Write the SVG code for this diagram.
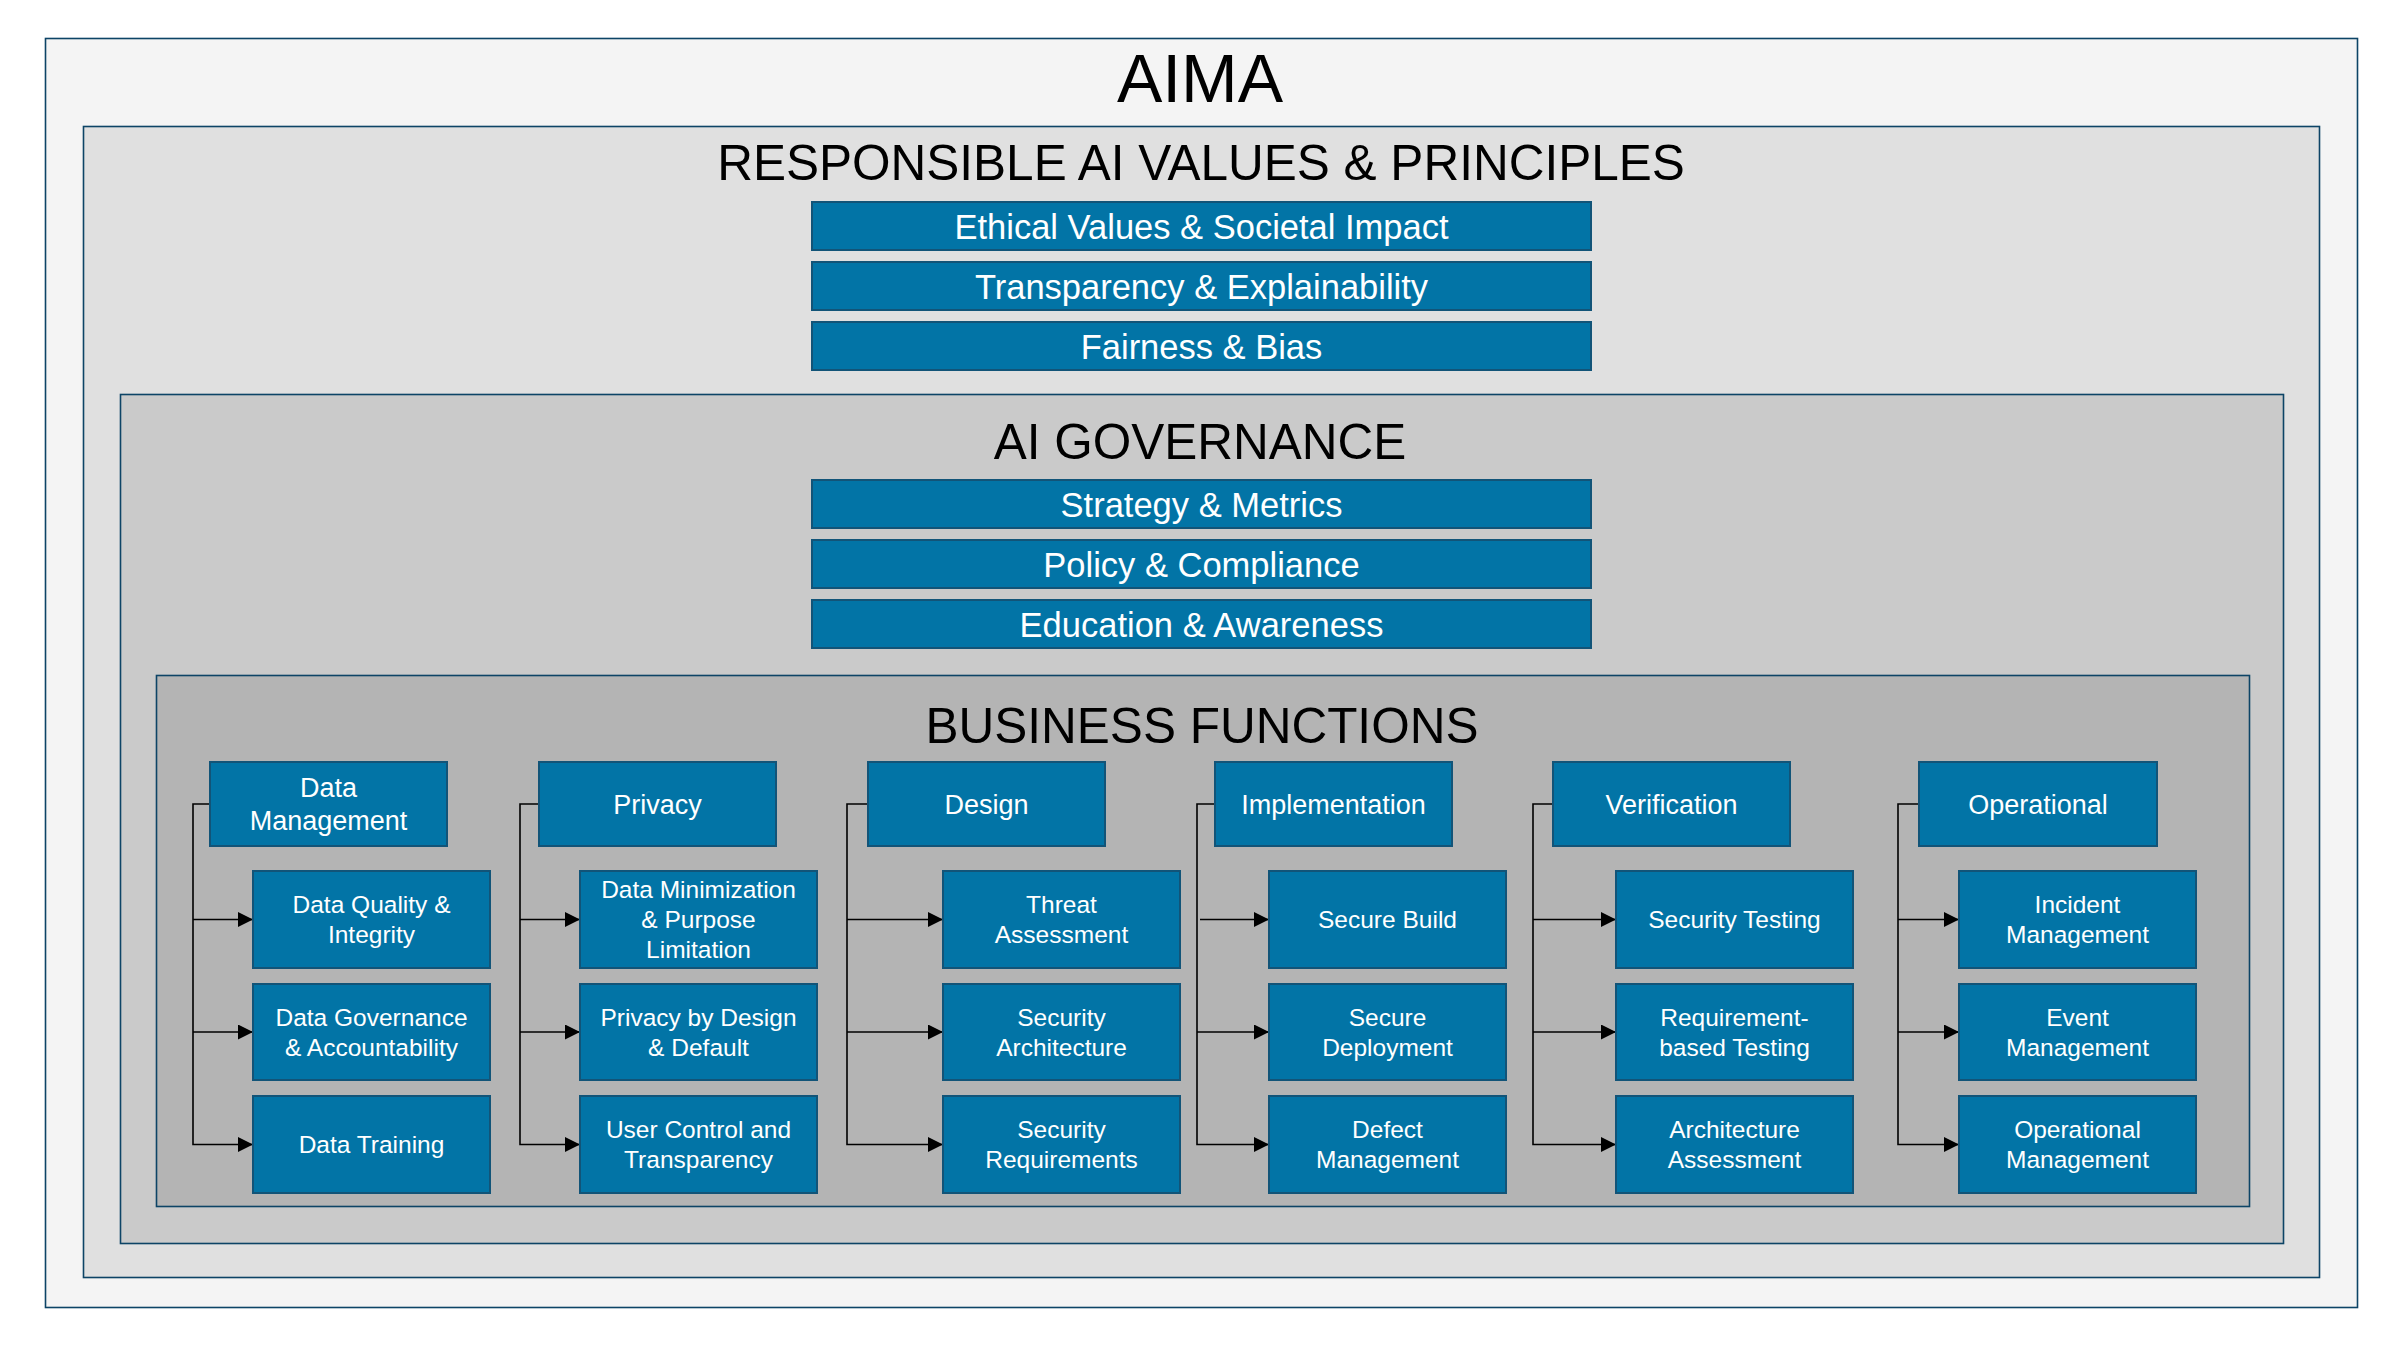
<svg xmlns="http://www.w3.org/2000/svg" width="2400" height="1350" viewBox="0 0 2400 1350">
  <defs>
    <marker id="arrow" viewBox="0 0 14 14" refX="14" refY="7" markerWidth="15" markerHeight="15" markerUnits="userSpaceOnUse" orient="auto">
      <path d="M0,0 L14,7 L0,14 Z" fill="#000"/>
    </marker>
    <style>
      .frame { stroke: #0d4466; stroke-width: 1.6; }
      .title { font-family: "Liberation Sans", Arial, sans-serif; fill: #000; text-anchor: middle; }
      .box { fill: #0274a6; stroke: #125478; stroke-width: 2; }
      .band { font-family: "Liberation Sans", Arial, sans-serif; font-size: 34.5px; fill: #fff; text-anchor: middle; }
      .head { font-family: "Liberation Sans", Arial, sans-serif; font-size: 27px; fill: #fff; text-anchor: middle; }
      .item { font-family: "Liberation Sans", Arial, sans-serif; font-size: 24.5px; fill: #fff; text-anchor: middle; }
      .link { fill: none; stroke: #000; stroke-width: 1.6; }
    </style>
  </defs>

  <rect width="2400" height="1350" fill="#fff"/>

  <!-- nested layers -->
  <g id="layer-aima">
    <rect class="frame" x="45.5" y="38.5" width="2312" height="1269" fill="#f4f4f4"/>
    <text class="title" x="1200" y="102" font-size="68">AIMA</text>
  </g>
  <g id="layer-values">
    <rect class="frame" x="83.5" y="126.5" width="2236" height="1151" fill="#e0e0e0"/>
    <text class="title" x="1201" y="179.5" font-size="49.5">RESPONSIBLE AI VALUES &amp; PRINCIPLES</text>
  </g>
  <g id="layer-governance">
    <rect class="frame" x="120.5" y="394.5" width="2163" height="849" fill="#cacaca"/>
    <text class="title" x="1200" y="459" font-size="49.5">AI GOVERNANCE</text>
  </g>
  <g id="layer-business">
    <rect class="frame" x="156.5" y="675.5" width="2093" height="531" fill="#b4b4b4"/>
    <text class="title" x="1202" y="742.5" font-size="49.5">BUSINESS FUNCTIONS</text>
  </g>

  <!-- principle and governance bands -->
  <g id="band-ethical"><rect class="box" x="812" y="202" width="779" height="48"/><text class="band" x="1201.5" y="238.5">Ethical Values &amp; Societal Impact</text></g>
  <g id="band-transparency"><rect class="box" x="812" y="262" width="779" height="48"/><text class="band" x="1201.5" y="298.5">Transparency &amp; Explainability</text></g>
  <g id="band-fairness"><rect class="box" x="812" y="322" width="779" height="48"/><text class="band" x="1201.5" y="358.5">Fairness &amp; Bias</text></g>
  <g id="band-strategy"><rect class="box" x="812" y="480" width="779" height="48"/><text class="band" x="1201.5" y="516.5">Strategy &amp; Metrics</text></g>
  <g id="band-policy"><rect class="box" x="812" y="540" width="779" height="48"/><text class="band" x="1201.5" y="576.5">Policy &amp; Compliance</text></g>
  <g id="band-education"><rect class="box" x="812" y="600" width="779" height="48"/><text class="band" x="1201.5" y="636.5">Education &amp; Awareness</text></g>

  <!-- connectors -->
  <g id="connectors">
    <path class="link" d="M210,804 H193 V1144.5 H253" marker-end="url(#arrow)"/>
    <path class="link" d="M193,919.5 H253" marker-end="url(#arrow)"/>
    <path class="link" d="M193,1032 H253" marker-end="url(#arrow)"/>

    <path class="link" d="M539,804 H520 V1144.5 H580" marker-end="url(#arrow)"/>
    <path class="link" d="M520,919.5 H580" marker-end="url(#arrow)"/>
    <path class="link" d="M520,1032 H580" marker-end="url(#arrow)"/>

    <path class="link" d="M868,804 H847 V1144.5 H943" marker-end="url(#arrow)"/>
    <path class="link" d="M847,919.5 H943" marker-end="url(#arrow)"/>
    <path class="link" d="M847,1032 H943" marker-end="url(#arrow)"/>

    <path class="link" d="M1215,804 H1197 V1144.5 H1269" marker-end="url(#arrow)"/>
    <path class="link" d="M1200,919.5 H1269" marker-end="url(#arrow)"/>
    <path class="link" d="M1197,1032 H1269" marker-end="url(#arrow)"/>

    <path class="link" d="M1553,804 H1533 V1144.5 H1616" marker-end="url(#arrow)"/>
    <path class="link" d="M1533,919.5 H1616" marker-end="url(#arrow)"/>
    <path class="link" d="M1533,1032 H1616" marker-end="url(#arrow)"/>

    <path class="link" d="M1919,804 H1898 V1144.5 H1959" marker-end="url(#arrow)"/>
    <path class="link" d="M1898,919.5 H1959" marker-end="url(#arrow)"/>
    <path class="link" d="M1898,1032 H1959" marker-end="url(#arrow)"/>
  </g>

  <!-- Data Management -->
  <g id="data-management"><rect class="box" x="210" y="762" width="237" height="84"/><text class="head" x="328.5" y="797">Data</text><text class="head" x="328.5" y="830">Management</text></g>
  <g id="data-quality"><rect class="box" x="253" y="871" width="237" height="97"/><text class="item" x="371.5" y="913">Data Quality &amp;</text><text class="item" x="371.5" y="943">Integrity</text></g>
  <g id="data-governance"><rect class="box" x="253" y="984" width="237" height="96"/><text class="item" x="371.5" y="1025.5">Data Governance</text><text class="item" x="371.5" y="1055.5">&amp; Accountability</text></g>
  <g id="data-training"><rect class="box" x="253" y="1096" width="237" height="97"/><text class="item" x="371.5" y="1153">Data Training</text></g>

  <!-- Privacy -->
  <g id="privacy"><rect class="box" x="539" y="762" width="237" height="84"/><text class="head" x="657.5" y="813.5">Privacy</text></g>
  <g id="data-minimization"><rect class="box" x="580" y="871" width="237" height="97"/><text class="item" x="698.5" y="898">Data Minimization</text><text class="item" x="698.5" y="928">&amp; Purpose</text><text class="item" x="698.5" y="958">Limitation</text></g>
  <g id="privacy-by-design"><rect class="box" x="580" y="984" width="237" height="96"/><text class="item" x="698.5" y="1025.5">Privacy by Design</text><text class="item" x="698.5" y="1055.5">&amp; Default</text></g>
  <g id="user-control"><rect class="box" x="580" y="1096" width="237" height="97"/><text class="item" x="698.5" y="1138">User Control and</text><text class="item" x="698.5" y="1168">Transparency</text></g>

  <!-- Design -->
  <g id="design"><rect class="box" x="868" y="762" width="237" height="84"/><text class="head" x="986.5" y="813.5">Design</text></g>
  <g id="threat-assessment"><rect class="box" x="943" y="871" width="237" height="97"/><text class="item" x="1061.5" y="913">Threat</text><text class="item" x="1061.5" y="943">Assessment</text></g>
  <g id="security-architecture"><rect class="box" x="943" y="984" width="237" height="96"/><text class="item" x="1061.5" y="1025.5">Security</text><text class="item" x="1061.5" y="1055.5">Architecture</text></g>
  <g id="security-requirements"><rect class="box" x="943" y="1096" width="237" height="97"/><text class="item" x="1061.5" y="1138">Security</text><text class="item" x="1061.5" y="1168">Requirements</text></g>

  <!-- Implementation -->
  <g id="implementation"><rect class="box" x="1215" y="762" width="237" height="84"/><text class="head" x="1333.5" y="813.5">Implementation</text></g>
  <g id="secure-build"><rect class="box" x="1269" y="871" width="237" height="97"/><text class="item" x="1387.5" y="928">Secure Build</text></g>
  <g id="secure-deployment"><rect class="box" x="1269" y="984" width="237" height="96"/><text class="item" x="1387.5" y="1025.5">Secure</text><text class="item" x="1387.5" y="1055.5">Deployment</text></g>
  <g id="defect-management"><rect class="box" x="1269" y="1096" width="237" height="97"/><text class="item" x="1387.5" y="1138">Defect</text><text class="item" x="1387.5" y="1168">Management</text></g>

  <!-- Verification -->
  <g id="verification"><rect class="box" x="1553" y="762" width="237" height="84"/><text class="head" x="1671.5" y="813.5">Verification</text></g>
  <g id="security-testing"><rect class="box" x="1616" y="871" width="237" height="97"/><text class="item" x="1734.5" y="928">Security Testing</text></g>
  <g id="requirement-testing"><rect class="box" x="1616" y="984" width="237" height="96"/><text class="item" x="1734.5" y="1025.5">Requirement-</text><text class="item" x="1734.5" y="1055.5">based Testing</text></g>
  <g id="architecture-assessment"><rect class="box" x="1616" y="1096" width="237" height="97"/><text class="item" x="1734.5" y="1138">Architecture</text><text class="item" x="1734.5" y="1168">Assessment</text></g>

  <!-- Operational -->
  <g id="operational"><rect class="box" x="1919" y="762" width="238" height="84"/><text class="head" x="2038" y="813.5">Operational</text></g>
  <g id="incident-management"><rect class="box" x="1959" y="871" width="237" height="97"/><text class="item" x="2077.5" y="913">Incident</text><text class="item" x="2077.5" y="943">Management</text></g>
  <g id="event-management"><rect class="box" x="1959" y="984" width="237" height="96"/><text class="item" x="2077.5" y="1025.5">Event</text><text class="item" x="2077.5" y="1055.5">Management</text></g>
  <g id="operational-management"><rect class="box" x="1959" y="1096" width="237" height="97"/><text class="item" x="2077.5" y="1138">Operational</text><text class="item" x="2077.5" y="1168">Management</text></g>
</svg>
